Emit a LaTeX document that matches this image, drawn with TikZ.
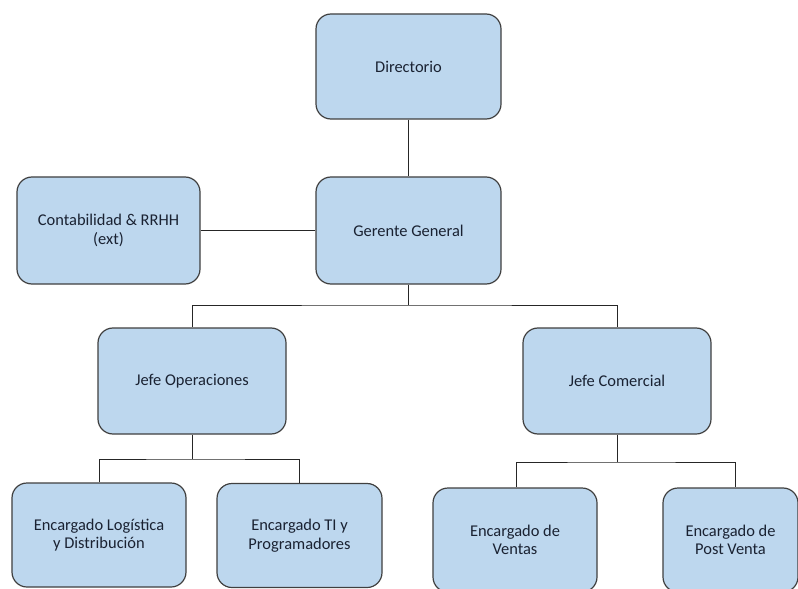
\documentclass[tikz,border=0pt]{standalone}
\usepackage{fontspec}
\setmainfont{Carlito}
\usetikzlibrary{calc}
\definecolor{boxfill}{HTML}{BDD7EE}
\definecolor{boxdraw}{HTML}{404040}
\definecolor{txt}{HTML}{1A2232}
\tikzset{
  orgbox/.style={draw=boxdraw, line width=1.2bp, fill=boxfill, rounded corners=15bp,
    align=center, text=txt, font=\fontsize{16.5}{18.5}\selectfont, inner sep=0pt},
  link/.style={draw=black!85, line width=1bp}
}
\begin{document}
\begin{tikzpicture}[x=1bp,y=-1bp]
\useasboundingbox (0,0) rectangle (798,589);
\clip (0,0) rectangle (798,589);
\fill[white] (0,0) rectangle (798,589);
\node[orgbox, minimum width=185bp, minimum height=105bp] (dir) at (408.5,66.5) {Directorio};
\node[orgbox, minimum width=185bp, minimum height=107bp] (gg) at (408.5,230.5) {Gerente General};
\node[orgbox, minimum width=183bp, minimum height=107bp] (cont) at (108.5,230.5) {Contabilidad \& RRHH\\(ext)};
\node[orgbox, minimum width=188bp, minimum height=106bp] (jo) at (192,381) {Jefe Operaciones};
\node[orgbox, minimum width=188bp, minimum height=106bp] (jc) at (617,381) {Jefe Comercial};
\node[orgbox, minimum width=174bp, minimum height=104bp] (log) at (99,535) {Encargado Logística\\y Distribución};
\node[orgbox, minimum width=165bp, minimum height=104bp] (ti) at (299.5,535.5) {Encargado TI y\\Programadores};
\node[orgbox, minimum width=164bp, minimum height=104bp] (ven) at (515,540) {Encargado de\\Ventas};
\node[orgbox, minimum width=135bp, minimum height=104bp] (pv) at (730.5,540) {Encargado de\\Post Venta};
\coordinate (b1) at (408.5,305);
\coordinate (b2) at (192,459);
\coordinate (b3) at (617,462);
\draw[link] (dir.south) -- (gg.north);
\draw[link] (cont.east) -- (gg.west);
\draw[link] (gg.south) -- (b1);
\draw[link] (jo.north) |- (b1) -| (jc.north);
\draw[link] (jo.south) -- (b2);
\draw[link] (log.north) |- (b2) -| (ti.north);
\draw[link] (jc.south) -- (b3);
\draw[link] ([xshift=1bp]ven.north) |- (b3) -| ([xshift=4.5bp]pv.north);
\end{tikzpicture}
\end{document}
